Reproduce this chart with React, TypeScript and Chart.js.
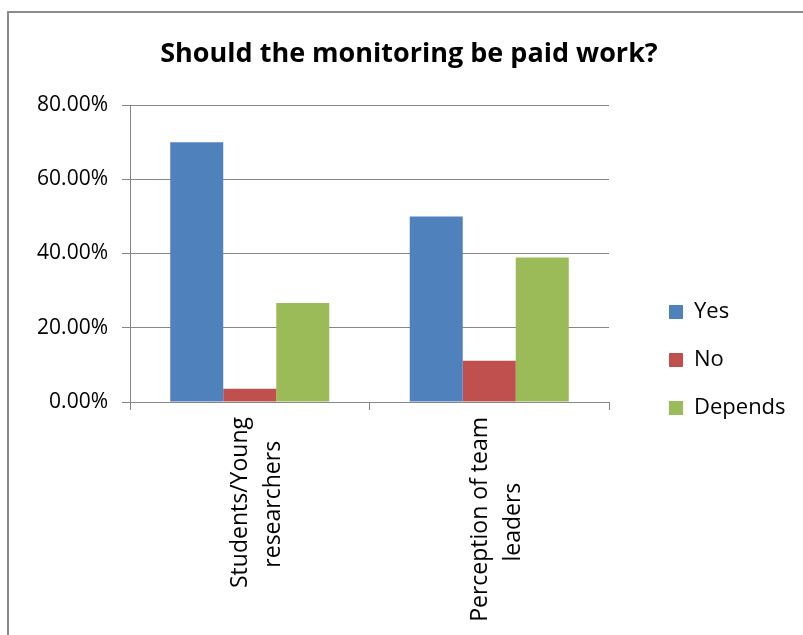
import React, { useEffect, useRef } from 'react';
import { Chart, registerables } from 'chart.js';

Chart.register(...registerables);

const titleText = 'Should the monitoring be paid work?';
const categories = [
  ['Students/Young', 'researchers'],
  ['Perception of team', 'leaders'],
];
const seriesNames = ['Yes', 'No', 'Depends'];
const yesValues = [70, 50];
const noValues = [3.6, 11.1];
const dependsValues = [26.7, 38.9];
const seriesColors = ['#4F81BD', '#C0504D', '#9BBB59'];
const yTickMin = 0;
const yTickMax = 80;
const yTickStep = 20;

const FONT = "'Open Sans', 'Noto Sans', sans-serif";
const CAT_FONT_SIZE = 23;
const GRID = '#878787';

// Pads shorter lines of a rotated multi-line label so that each line is centred
// under the longest one (Chart.js aligns rotated lines to their end).
function centeredLines(lines: string[]): string[] {
  const ctx = document.createElement('canvas').getContext('2d');
  if (!ctx) return lines;
  ctx.font = `${CAT_FONT_SIZE}px ${FONT}`;
  const widths = lines.map((l) => ctx.measureText(l).width);
  const max = Math.max(...widths);
  const sp = ctx.measureText(' ').width || 1;
  return lines.map((l, i) => l + ' '.repeat(Math.max(0, Math.round((max - widths[i]) / 2 / sp))));
}

// Places the right-hand legend like the original: a fixed-width column beside the plot,
// vertically spanning the plot area down to the lower edge.
const legendPlacer = {
  id: 'legendPlacer',
  beforeUpdate(chart: any) {
    const lg = chart.legend;
    if (lg && !lg.__patched) {
      const orig = lg.fit.bind(lg);
      lg.fit = function () {
        orig();
        this.width = 194;
      };
      lg.__patched = true;
    }
  },
  afterLayout(chart: any) {
    const lg = chart.legend;
    if (!lg) return;
    lg.left = chart.chartArea.right + 34;
    lg.right = chart.width;
    lg.width = lg.right - lg.left;
    lg.top = chart.chartArea.top;
    lg.bottom = chart.height - 20;
    lg.height = lg.bottom - lg.top;
  },
};

export default function App() {
  const ref = useRef<HTMLCanvasElement | null>(null);

  useEffect(() => {
    if (!ref.current) return;
    const values = [yesValues, noValues, dependsValues];
    const chart = new Chart(ref.current, {
      type: 'bar',
      data: {
        labels: categories,
        datasets: seriesNames.map((name, i) => ({
          label: name,
          data: values[i],
          backgroundColor: seriesColors[i],
          borderWidth: 0,
          categoryPercentage: 0.664,
          barPercentage: 1,
        })),
      },
      plugins: [legendPlacer],
      options: {
        responsive: false,
        animation: false,
        devicePixelRatio: 1,
        layout: { padding: { left: 15, right: 0, top: 0, bottom: 0 } },
        plugins: {
          title: {
            display: true,
            text: titleText,
            color: '#000',
            font: { family: FONT, size: 27, weight: 'bold', lineHeight: 1.2 },
            padding: { top: 38, bottom: 34.6 },
          },
          legend: {
            display: true,
            position: 'right',
            labels: {
              color: '#000',
              font: { family: FONT, size: 22 },
              boxWidth: 14,
              boxHeight: 14,
              padding: 26,
            },
          },
          tooltip: { enabled: false },
        },
        scales: {
          x: {
            type: 'category',
            grid: {
              display: true,
              drawOnChartArea: false,
              drawTicks: true,
              tickLength: 8,
              color: GRID,
              offset: true,
            },
            border: { display: true, color: GRID, width: 1 },
            ticks: {
              color: '#000',
              font: { family: FONT, size: CAT_FONT_SIZE, lineHeight: 1.43 },
              minRotation: 90,
              maxRotation: 90,
              padding: 7,
              labelOffset: -9,
              autoSkip: false,
              callback: (_v: any, index: number) => centeredLines(categories[index]),
            },
            afterFit: (s: any) => {
              s.height = 233;
            },
          },
          y: {
            type: 'linear',
            position: 'left',
            min: yTickMin,
            max: yTickMax,
            grid: { color: GRID, lineWidth: 1, tickLength: 8, drawTicks: true },
            border: { display: true, color: GRID, width: 1 },
            ticks: {
              stepSize: yTickStep,
              color: '#000',
              font: { family: FONT, size: 21 },
              padding: 14,
              callback: (v: any) => Number(v).toFixed(2) + '%',
            },
            afterFit: (s: any) => {
              s.width = 115;
            },
          },
        },
      },
    });
    return () => chart.destroy();
  }, []);

  return (
    <div style={{ position: 'fixed', left: 0, top: 0, width: 803, height: 635, background: '#fff', overflow: 'hidden' }}>
      <canvas ref={ref} width={803} height={635} style={{ position: 'absolute', left: 0, top: 0 }} />
      <div
        style={{
          position: 'absolute',
          left: 7,
          top: 11,
          width: 820,
          height: 700,
          borderLeft: '2px solid #8c8c8c',
          borderTop: '2px solid #8c8c8c',
          pointerEvents: 'none',
        }}
      />
    </div>
  );
}
